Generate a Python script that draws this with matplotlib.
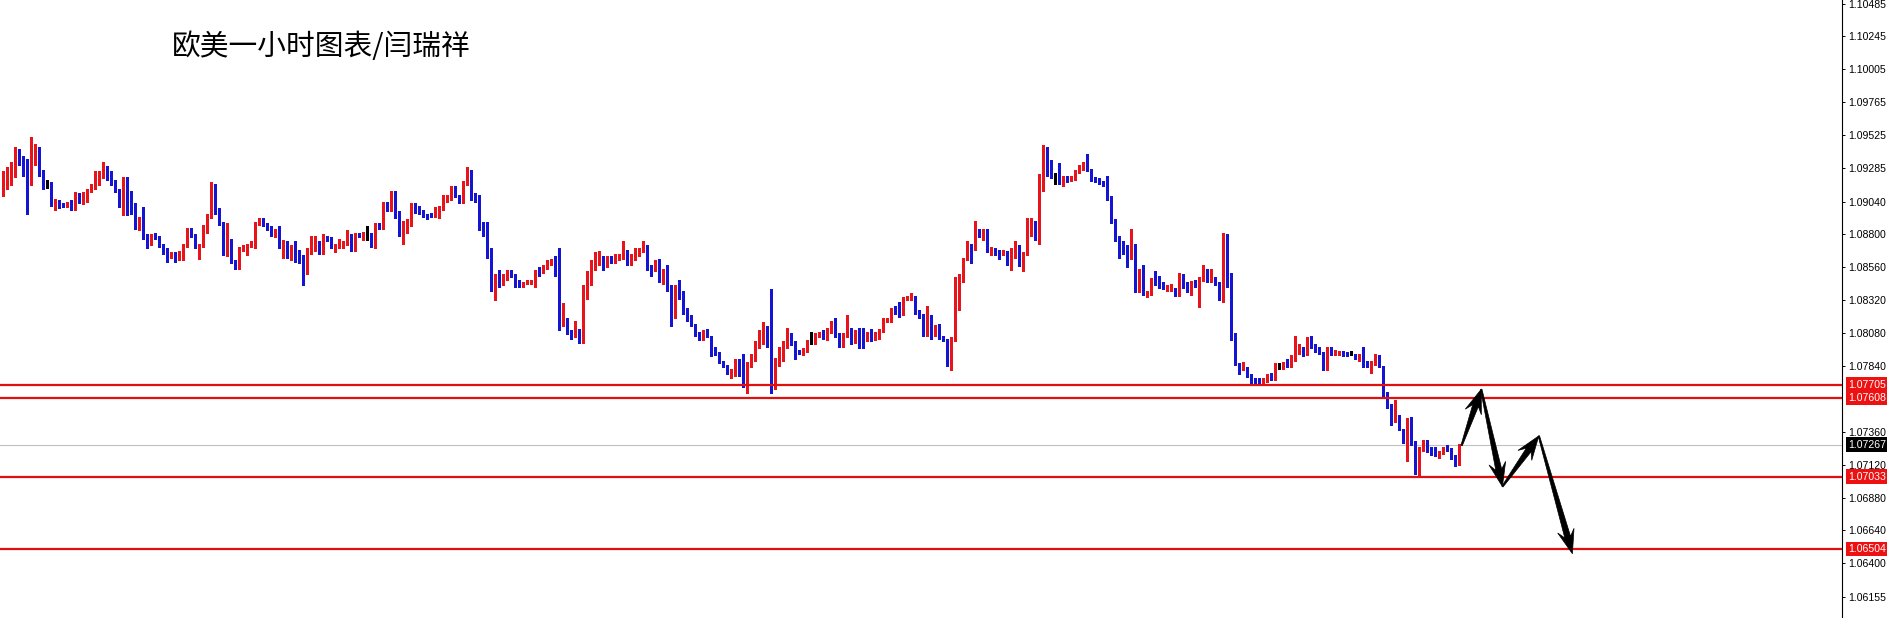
import numpy as np
import matplotlib
matplotlib.use('Agg')
import matplotlib.pyplot as plt
from matplotlib.patches import Polygon

# ---------------- data (EURUSD H1) ----------------
opens = [
1.0910,1.0915,1.0922,1.0926,1.0939,1.0934,1.0928,1.0921,1.0939,1.0940,
1.0926,1.0917,1.0917,1.0902,1.0905,1.0902,1.0901,1.0903,1.0901,1.0905,
1.0903,1.0905,1.0912,1.0914,1.0918,1.0922,1.0927,1.0926,1.0918,1.0912,
1.0901,1.0908,1.0905,1.0902,1.0886,1.0889,1.0879,1.0873,1.0880,1.0878,
1.0873,1.0869,1.0864,1.0865,1.0862,1.0867,1.0871,1.0883,1.0879,1.0871,
1.0872,1.0882,1.0893,1.0905,1.0898,1.0888,1.0871,1.0877,1.0859,1.0855,
1.0870,1.0866,1.0871,1.0872,1.0888,1.0890,1.0887,1.0885,1.0881,1.0881,
1.0870,1.0872,1.0866,1.0867,1.0862,1.0862,1.0854,1.0868,1.0870,1.0873,
1.0871,1.0878,1.0877,1.0870,1.0871,1.0871,1.0873,1.0879,1.0871,1.0880,
1.0879,1.0880,1.0880,1.0876,1.0887,1.0884,1.0900,1.0897,1.0908,1.0897,
1.0885,1.0886,1.0886,1.0901,1.0900,1.0897,1.0895,1.0895,1.0894,1.0895,
1.0898,1.0905,1.0905,1.0913,1.0907,1.0904,1.0917,1.0925,1.0909,1.0906,
1.0885,1.0884,1.0865,1.0842,1.0850,1.0844,1.0848,1.0851,1.0851,1.0845,
1.0843,1.0845,1.0845,1.0846,1.0854,1.0853,1.0856,1.0859,1.0862,1.0860,
1.0816,1.0817,1.0809,1.0806,1.0810,1.0802,1.0836,1.0844,1.0860,1.0860,
1.0864,1.0857,1.0863,1.0860,1.0863,1.0864,1.0868,1.0859,1.0864,1.0864,
1.0868,1.0870,1.0856,1.0854,1.0861,1.0847,1.0854,1.0841,1.0819,1.0841,
1.0838,1.0824,1.0820,1.0815,1.0808,1.0804,1.0811,1.0805,1.0798,1.0793,
1.0788,1.0785,1.0778,1.0780,1.0788,1.0780,1.0771,1.0783,1.0788,1.0801,
1.0801,1.0811,1.0806,1.0771,1.0785,1.0794,1.0797,1.0806,1.0801,1.0795,
1.0793,1.0795,1.0801,1.0801,1.0806,1.0808,1.0806,1.0808,1.0815,1.0807,
1.0798,1.0806,1.0811,1.0802,1.0809,1.0806,1.0803,1.0808,1.0806,1.0806,
1.0810,1.0817,1.0817,1.0825,1.0824,1.0822,1.0832,1.0834,1.0835,1.0823,
1.0820,1.0806,1.0819,1.0806,1.0813,1.0805,1.0803,1.0791,1.0802,1.0827,
1.0848,1.0861,1.0872,1.0870,1.0884,1.0877,1.0884,1.0867,1.0869,1.0868,
1.0866,1.0868,1.0858,1.0864,1.0868,1.0863,1.0866,1.0888,1.0889,1.0877,
1.0920,1.0944,1.0927,1.0924,1.0924,1.0918,1.0923,1.0920,1.0920,1.0925,
1.0928,1.0932,1.0927,1.0921,1.0920,1.0918,1.0917,1.0906,1.0891,1.0876,
1.0873,1.0872,1.0867,1.0873,1.0848,1.0853,1.0836,1.0837,1.0847,1.0844,
1.0842,1.0840,1.0840,1.0841,1.0836,1.0845,1.0843,1.0841,1.0845,1.0844,
1.0847,1.0854,1.0847,1.0848,1.0845,1.0832,1.0863,1.0851,1.0807,1.0785,
1.0782,1.0783,1.0777,1.0774,1.0773,1.0772,1.0774,1.0778,1.0775,1.0785,
1.0784,1.0786,1.0785,1.0788,1.0794,1.0797,1.0793,1.0804,1.0798,1.0797,
1.0794,1.0782,1.0798,1.0793,1.0793,1.0794,1.0793,1.0793,1.0793,1.0789,
1.0792,1.0787,1.0786,1.0786,1.0791,1.0784,1.0765,1.0755,1.0746,1.0747,
1.0738,1.0730,1.0743,1.0728,1.0705,1.0724,1.0729,1.0721,1.0721,1.0719,
1.0721,1.0724,1.0723,1.0718,1.0713]

highs = [
1.0926,1.0929,1.0933,1.0944,1.0942,1.0937,1.0935,1.0951,1.0946,1.0944,
1.0927,1.0920,1.0918,1.0906,1.0905,1.0903,1.0904,1.0905,1.0911,1.0910,
1.0911,1.0913,1.0917,1.0926,1.0926,1.0933,1.0930,1.0926,1.0920,1.0913,
1.0922,1.0922,1.0912,1.0903,1.0893,1.0900,1.0880,1.0880,1.0881,1.0879,
1.0873,1.0870,1.0867,1.0867,1.0868,1.0873,1.0885,1.0885,1.0880,1.0873,
1.0887,1.0895,1.0918,1.0917,1.0899,1.0889,1.0888,1.0877,1.0861,1.0871,
1.0872,1.0873,1.0875,1.0889,1.0892,1.0892,1.0888,1.0886,1.0884,1.0886,
1.0876,1.0875,1.0872,1.0875,1.0869,1.0865,1.0870,1.0879,1.0879,1.0875,
1.0880,1.0879,1.0878,1.0873,1.0877,1.0875,1.0883,1.0880,1.0881,1.0881,
1.0882,1.0886,1.0881,1.0888,1.0888,1.0904,1.0904,1.0912,1.0912,1.0897,
1.0890,1.0891,1.0903,1.0903,1.0901,1.0898,1.0895,1.0896,1.0900,1.0901,
1.0909,1.0909,1.0915,1.0915,1.0909,1.0919,1.0929,1.0927,1.0910,1.0909,
1.0889,1.0889,1.0870,1.0851,1.0854,1.0851,1.0854,1.0854,1.0851,1.0847,
1.0845,1.0847,1.0847,1.0854,1.0856,1.0858,1.0861,1.0862,1.0864,1.0870,
1.0830,1.0819,1.0810,1.0817,1.0811,1.0843,1.0853,1.0861,1.0867,1.0868,
1.0864,1.0864,1.0864,1.0866,1.0866,1.0875,1.0869,1.0866,1.0870,1.0870,
1.0875,1.0872,1.0858,1.0861,1.0862,1.0855,1.0858,1.0843,1.0843,1.0847,
1.0839,1.0826,1.0821,1.0815,1.0809,1.0810,1.0811,1.0806,1.0798,1.0794,
1.0788,1.0785,1.0782,1.0789,1.0789,1.0793,1.0787,1.0793,1.0802,1.0810,
1.0816,1.0813,1.0840,1.0790,1.0798,1.0802,1.0812,1.0808,1.0802,1.0796,
1.0797,1.0803,1.0809,1.0808,1.0809,1.0810,1.0812,1.0817,1.0819,1.0808,
1.0808,1.0821,1.0812,1.0810,1.0812,1.0812,1.0809,1.0811,1.0809,1.0811,
1.0819,1.0819,1.0826,1.0828,1.0831,1.0834,1.0835,1.0837,1.0835,1.0825,
1.0822,1.0828,1.0821,1.0814,1.0815,1.0806,1.0804,1.0805,1.0849,1.0851,
1.0863,1.0875,1.0873,1.0890,1.0884,1.0884,1.0884,1.0871,1.0870,1.0869,
1.0869,1.0868,1.0870,1.0875,1.0872,1.0867,1.0892,1.0892,1.0890,1.0924,
1.0945,1.0944,1.0934,1.0925,1.0932,1.0923,1.0923,1.0923,1.0927,1.0931,
1.0933,1.0939,1.0928,1.0922,1.0921,1.0919,1.0923,1.0908,1.0891,1.0879,
1.0875,1.0872,1.0884,1.0873,1.0855,1.0858,1.0839,1.0848,1.0853,1.0850,
1.0845,1.0843,1.0844,1.0841,1.0852,1.0851,1.0845,1.0846,1.0847,1.0849,
1.0858,1.0855,1.0855,1.0849,1.0845,1.0881,1.0880,1.0852,1.0808,1.0786,
1.0787,1.0783,1.0778,1.0775,1.0775,1.0775,1.0778,1.0779,1.0786,1.0786,
1.0787,1.0789,1.0792,1.0806,1.0800,1.0798,1.0805,1.0806,1.0800,1.0798,
1.0794,1.0798,1.0798,1.0796,1.0795,1.0795,1.0794,1.0795,1.0793,1.0793,
1.0798,1.0788,1.0788,1.0793,1.0792,1.0784,1.0765,1.0756,1.0759,1.0748,
1.0738,1.0746,1.0747,1.0729,1.0725,1.0730,1.0730,1.0725,1.0725,1.0722,
1.0725,1.0726,1.0724,1.0719,1.0727]

lows = [
1.0908,1.0913,1.0916,1.0922,1.0931,1.0923,1.0895,1.0916,1.0931,1.0923,
1.0913,1.0914,1.0901,1.0898,1.0899,1.0900,1.0900,1.0898,1.0898,1.0903,
1.0902,1.0904,1.0911,1.0913,1.0916,1.0921,1.0920,1.0916,1.0911,1.0900,
1.0894,1.0894,1.0895,1.0884,1.0883,1.0877,1.0870,1.0872,1.0877,1.0871,
1.0866,1.0860,1.0863,1.0860,1.0861,1.0861,1.0871,1.0878,1.0870,1.0862,
1.0871,1.0881,1.0892,1.0895,1.0887,1.0865,1.0864,1.0859,1.0855,1.0855,
1.0868,1.0865,1.0871,1.0870,1.0887,1.0886,1.0883,1.0879,1.0878,1.0870,
1.0863,1.0863,1.0861,1.0860,1.0859,1.0843,1.0851,1.0866,1.0868,1.0866,
1.0866,1.0875,1.0870,1.0867,1.0870,1.0870,1.0872,1.0868,1.0868,1.0878,
1.0876,1.0876,1.0871,1.0870,1.0884,1.0884,1.0897,1.0897,1.0892,1.0879,
1.0873,1.0881,1.0886,1.0896,1.0895,1.0893,1.0891,1.0893,1.0893,1.0892,
1.0898,1.0904,1.0905,1.0907,1.0903,1.0903,1.0916,1.0905,1.0904,1.0883,
1.0879,1.0863,1.0839,1.0832,1.0842,1.0843,1.0847,1.0849,1.0842,1.0842,
1.0842,1.0844,1.0844,1.0842,1.0850,1.0852,1.0855,1.0858,1.0850,1.0810,
1.0813,1.0807,1.0804,1.0805,1.0801,1.0801,1.0833,1.0843,1.0854,1.0858,
1.0854,1.0856,1.0859,1.0859,1.0861,1.0862,1.0858,1.0858,1.0861,1.0864,
1.0867,1.0854,1.0850,1.0853,1.0845,1.0844,1.0839,1.0813,1.0819,1.0833,
1.0822,1.0817,1.0813,1.0806,1.0803,1.0803,1.0805,1.0791,1.0792,1.0786,
1.0783,1.0778,1.0775,1.0777,1.0777,1.0769,1.0764,1.0783,1.0788,1.0797,
1.0800,1.0798,1.0764,1.0767,1.0784,1.0788,1.0797,1.0799,1.0789,1.0793,
1.0792,1.0794,1.0800,1.0800,1.0805,1.0804,1.0803,1.0808,1.0805,1.0798,
1.0798,1.0805,1.0800,1.0801,1.0797,1.0797,1.0802,1.0802,1.0803,1.0804,
1.0809,1.0816,1.0816,1.0822,1.0820,1.0821,1.0832,1.0832,1.0822,1.0819,
1.0806,1.0806,1.0804,1.0806,1.0804,1.0802,1.0784,1.0781,1.0802,1.0825,
1.0845,1.0861,1.0859,1.0869,1.0878,1.0876,1.0867,1.0865,1.0865,1.0862,
1.0865,1.0858,1.0854,1.0863,1.0857,1.0853,1.0865,1.0879,1.0876,1.0873,
1.0912,1.0923,1.0921,1.0917,1.0917,1.0915,1.0918,1.0919,1.0920,1.0925,
1.0927,1.0926,1.0919,1.0918,1.0917,1.0915,1.0905,1.0888,1.0875,1.0863,
1.0866,1.0856,1.0862,1.0838,1.0838,1.0836,1.0834,1.0836,1.0843,1.0841,
1.0840,1.0839,1.0839,1.0835,1.0835,1.0841,1.0838,1.0836,1.0842,1.0827,
1.0846,1.0845,1.0845,1.0843,1.0832,1.0831,1.0842,1.0803,1.0785,1.0778,
1.0781,1.0776,1.0771,1.0771,1.0771,1.0771,1.0772,1.0774,1.0774,1.0782,
1.0782,1.0783,1.0783,1.0788,1.0793,1.0791,1.0792,1.0797,1.0794,1.0793,
1.0781,1.0781,1.0792,1.0792,1.0792,1.0791,1.0791,1.0792,1.0789,1.0788,
1.0783,1.0783,1.0779,1.0785,1.0783,1.0761,1.0753,1.0741,1.0743,1.0737,
1.0728,1.0715,1.0726,1.0705,1.0704,1.0722,1.0721,1.0719,1.0718,1.0717,
1.0720,1.0722,1.0716,1.0711,1.0712]

closes = [
1.0922,1.0923,1.0927,1.0939,1.0932,1.0928,1.0921,1.0939,1.0940,1.0926,
1.0916,1.0917,1.0903,1.0905,1.0900,1.0901,1.0903,1.0901,1.0905,1.0903,
1.0905,1.0912,1.0915,1.0918,1.0922,1.0927,1.0925,1.0917,1.0912,1.0901,
1.0908,1.0905,1.0901,1.0886,1.0890,1.0878,1.0872,1.0878,1.0878,1.0872,
1.0868,1.0864,1.0865,1.0862,1.0867,1.0872,1.0882,1.0879,1.0871,1.0872,
1.0882,1.0894,1.0905,1.0898,1.0888,1.0871,1.0877,1.0859,1.0855,1.0870,
1.0871,1.0873,1.0873,1.0888,1.0890,1.0887,1.0884,1.0881,1.0882,1.0870,
1.0872,1.0866,1.0867,1.0861,1.0861,1.0854,1.0869,1.0871,1.0873,1.0872,
1.0878,1.0876,1.0870,1.0871,1.0873,1.0874,1.0879,1.0871,1.0880,1.0879,
1.0881,1.0880,1.0876,1.0887,1.0884,1.0900,1.0897,1.0908,1.0897,1.0886,
1.0886,1.0890,1.0901,1.0897,1.0897,1.0894,1.0893,1.0894,1.0896,1.0899,
1.0905,1.0906,1.0913,1.0907,1.0904,1.0917,1.0925,1.0908,1.0905,1.0884,
1.0883,1.0864,1.0842,1.0850,1.0843,1.0849,1.0850,1.0850,1.0844,1.0843,
1.0845,1.0846,1.0846,1.0854,1.0853,1.0856,1.0859,1.0862,1.0860,1.0816,
1.0818,1.0808,1.0806,1.0810,1.0802,1.0836,1.0844,1.0861,1.0861,1.0864,
1.0857,1.0862,1.0860,1.0864,1.0864,1.0868,1.0859,1.0864,1.0865,1.0868,
1.0870,1.0855,1.0855,1.0860,1.0847,1.0854,1.0840,1.0819,1.0841,1.0837,
1.0823,1.0819,1.0814,1.0807,1.0804,1.0809,1.0805,1.0797,1.0793,1.0787,
1.0785,1.0778,1.0781,1.0788,1.0779,1.0771,1.0785,1.0789,1.0802,1.0802,
1.0812,1.0806,1.0771,1.0785,1.0795,1.0798,1.0806,1.0801,1.0792,1.0793,
1.0796,1.0802,1.0801,1.0807,1.0808,1.0806,1.0810,1.0815,1.0806,1.0798,
1.0806,1.0810,1.0802,1.0809,1.0805,1.0803,1.0808,1.0806,1.0808,1.0811,
1.0817,1.0818,1.0825,1.0823,1.0822,1.0833,1.0834,1.0835,1.0822,1.0820,
1.0806,1.0819,1.0806,1.0813,1.0805,1.0802,1.0791,1.0802,1.0827,1.0848,
1.0862,1.0872,1.0870,1.0884,1.0878,1.0883,1.0867,1.0869,1.0867,1.0865,
1.0868,1.0858,1.0865,1.0868,1.0863,1.0867,1.0888,1.0889,1.0877,1.0920,
1.0944,1.0927,1.0924,1.0924,1.0918,1.0923,1.0920,1.0922,1.0926,1.0929,
1.0932,1.0927,1.0920,1.0919,1.0917,1.0916,1.0906,1.0891,1.0876,1.0872,
1.0871,1.0867,1.0873,1.0848,1.0853,1.0836,1.0837,1.0847,1.0844,1.0842,
1.0841,1.0841,1.0842,1.0836,1.0845,1.0842,1.0840,1.0845,1.0844,1.0848,
1.0854,1.0847,1.0848,1.0844,1.0832,1.0863,1.0851,1.0806,1.0785,1.0782,
1.0783,1.0777,1.0773,1.0772,1.0772,1.0774,1.0777,1.0775,1.0785,1.0785,
1.0785,1.0785,1.0788,1.0794,1.0797,1.0793,1.0804,1.0798,1.0796,1.0794,
1.0782,1.0798,1.0793,1.0794,1.0795,1.0792,1.0791,1.0793,1.0789,1.0792,
1.0787,1.0785,1.0787,1.0791,1.0783,1.0764,1.0755,1.0746,1.0747,1.0737,
1.0730,1.0743,1.0727,1.0705,1.0724,1.0728,1.0721,1.0720,1.0719,1.0721,
1.0724,1.0722,1.0716,1.0713,1.0726]

level_lines = [1.07705, 1.07608, 1.07033, 1.06504]
current_price = 1.07267
tick_values = [1.10485, 1.10245, 1.10005, 1.09765, 1.09525, 1.09285, 1.09040,
               1.08800, 1.08560, 1.08320, 1.08080, 1.07840, 1.07360, 1.07120,
               1.06880, 1.06640, 1.06400, 1.06155]
# projected path (bar index, price) drawn as arrows
path_bars = [364.6, 369.5, 374.8, 383.9, 392.3]
path_prices = [1.0726, 1.0767, 1.0696, 1.0733, 1.0647]
title_text = "欧美一小时图表/闫瑞祥"

# ---------------- figure ----------------
W, H = 1887, 618
fig = plt.figure(figsize=(W / 100, H / 100), dpi=100)
fig.patch.set_facecolor('white')
ax = fig.add_axes([0, 0, 1842 / W, 1])
ax.set_xlim(-0.83, 459.7)
ax.set_ylim(1.06001, 1.10511)

RED = '#e8141c'
BLUE = '#1414d2'

o = np.array(opens); h = np.array(highs); l = np.array(lows); c = np.array(closes)
x = np.arange(len(o))
cols = np.where(c > o, RED, np.where(c < o, BLUE, 'black'))

ax.vlines(x, l, h, colors=cols, linewidth=0.8, zorder=2, antialiased=False)
bottom = np.minimum(o, c)
height = np.maximum(np.abs(c - o), 0.00008)
ax.bar(x, height, bottom=bottom, width=0.8, color=cols, linewidth=0, zorder=2.1,
       antialiased=False)

# horizontal lines
ax.axhline(current_price, color='#c0c0c0', lw=0.8, zorder=1)
for lv in level_lines:
    ax.axhline(lv, color='#e01010', lw=1.6, zorder=3)

# arrows
def arrow(p0, p1, hl=24.0, hw=8.5, tw=0.7, nw=3.0):
    s = ax.transData.transform(p0)
    t = ax.transData.transform(p1)
    d = t - s
    u = d / np.hypot(*d)
    n = np.array([-u[1], u[0]])
    pts = [s + n * tw,
           t - u * hl * 0.72 + n * nw,
           t - u * hl + n * hw,
           t,
           t - u * hl - n * hw,
           t - u * hl * 0.72 - n * nw,
           s - n * tw]
    dp = ax.transData.inverted().transform(np.array(pts))
    ax.add_patch(Polygon(dp, closed=True, facecolor='black', edgecolor='black',
                         lw=0.5, zorder=5))

for i in range(len(path_bars) - 1):
    arrow((path_bars[i], path_prices[i]), (path_bars[i + 1], path_prices[i + 1]))

# axes / ticks
for sp in ['left', 'top', 'bottom']:
    ax.spines[sp].set_visible(False)
ax.spines['right'].set_color('black')
ax.spines['right'].set_linewidth(0.8)
ax.set_xticks([])
ax.yaxis.tick_right()
ax.set_yticks(tick_values)
ax.set_yticklabels([f'{v:.5f}' for v in tick_values])
ax.tick_params(axis='y', length=2.2, width=0.7, pad=2.2, labelsize=7.6,
               colors='black', direction='out')
for lab in ax.get_yticklabels():
    lab.set_fontfamily('Liberation Sans')

tr = ax.get_yaxis_transform()
xl = 1848 / 1842
for lv in level_lines:
    ax.text(xl, lv, f'{lv:.5f}', transform=tr, ha='left', va='center',
            color='white', fontsize=7.6, family='Liberation Sans', clip_on=False,
            zorder=6, bbox=dict(boxstyle='square,pad=0.22', fc='#ee1111', ec='none'))
ax.text(xl, current_price, f'{current_price:.5f}', transform=tr, ha='left',
        va='center', color='white', fontsize=7.6, family='Liberation Sans',
        clip_on=False, zorder=6,
        bbox=dict(boxstyle='square,pad=0.22', fc='black', ec='none'))

fig.text(172 / W, 1 - 46.5 / H, title_text, fontsize=20.7, ha='left', va='center',
         family=['Noto Sans CJK SC', 'DejaVu Sans'], color='black')

fig.savefig('out.png', dpi=100, facecolor='white')
